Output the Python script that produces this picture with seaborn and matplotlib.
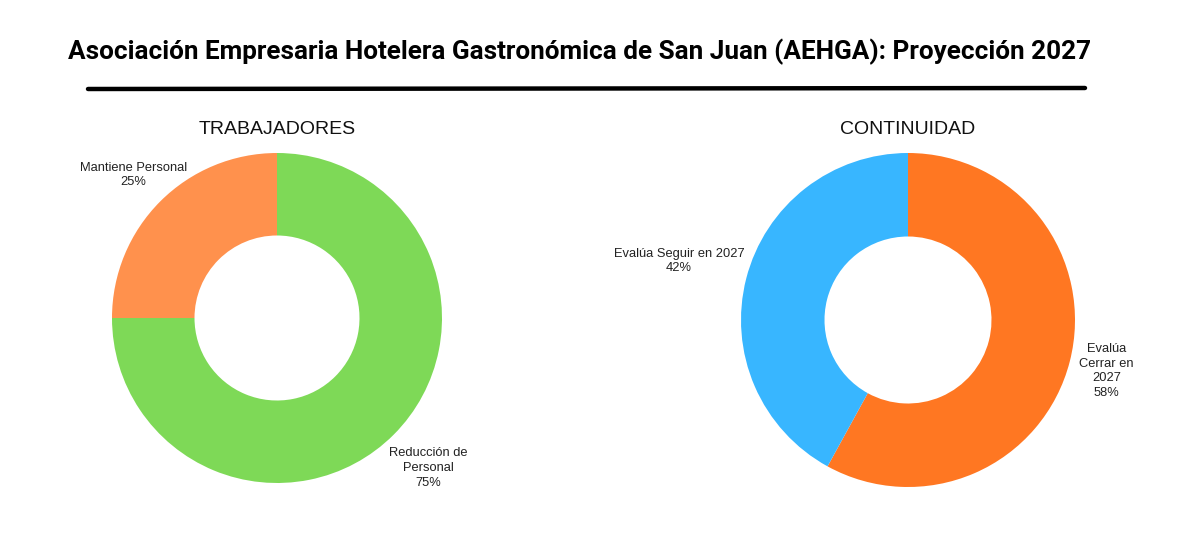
import matplotlib
matplotlib.use("Agg")
import matplotlib.pyplot as plt
import seaborn as sns
from matplotlib.lines import Line2D

sns.set_theme(style="white")
plt.rcParams['font.family'] = ['Liberation Sans', 'DejaVu Sans']

title = "Asociación Empresaria Hotelera Gastronómica de San Juan (AEHGA): Proyección 2027"

trab_title = "TRABAJADORES"
trab_labels = ["Reducción de\nPersonal", "Mantiene Personal"]
trab_values = [75, 25]
trab_colors = ["#7ED957", "#FF914D"]

cont_title = "CONTINUIDAD"
cont_labels = ["Evalúa\nCerrar en\n2027", "Evalúa Seguir en 2027"]
cont_values = [58, 42]
cont_colors = ["#FF7722", "#38B6FF"]

W, H = 1200, 545
fig = plt.figure(figsize=(W / 100, H / 100), dpi=100)

fig.text(580 / W, 1 - 52 / H, title, ha="center", va="center",
         fontsize=18.85, fontweight="bold", family=["Roboto", "DejaVu Sans"], color="black")
fig.add_artist(Line2D([88 / W, 1085 / W], [1 - 89 / H, 1 - 88 / H],
                      transform=fig.transFigure, color="black", lw=3.2))


def donut(cx, cy, r, values, labels, colors, label_pos, sub):
    ax = fig.add_axes([(cx - r) / W, (H - cy - r) / H, 2 * r / W, 2 * r / H])
    wedges, _ = ax.pie(values, colors=colors, startangle=90, counterclock=False,
                       radius=1.0, wedgeprops=dict(width=0.5, edgecolor="none"))
    total = sum(values)
    for lab, v, (x, y) in zip(labels, values, label_pos):
        ax.text(x, y, f"{lab}\n{v / total * 100:.0f}%", ha="center", va="center",
                fontsize=9.3, color="#222222", linespacing=1.3)
    ax.set_xlim(-1, 1)
    ax.set_ylim(-1, 1)
    ax.set_aspect("equal")
    ax.axis("off")
    fig.text(cx / W, 1 - 130 / H, sub, ha="center", va="center",
             fontsize=14, color="#111111")


donut(277, 318, 165, trab_values, trab_labels, trab_colors,
      [(0.915, -0.91), (-0.87, 0.867)], trab_title)
donut(908, 320, 167, cont_values, cont_labels, cont_colors,
      [(1.19, -0.305), (-1.371, 0.353)], cont_title)

fig.savefig("out.png", dpi=100, facecolor="white")
